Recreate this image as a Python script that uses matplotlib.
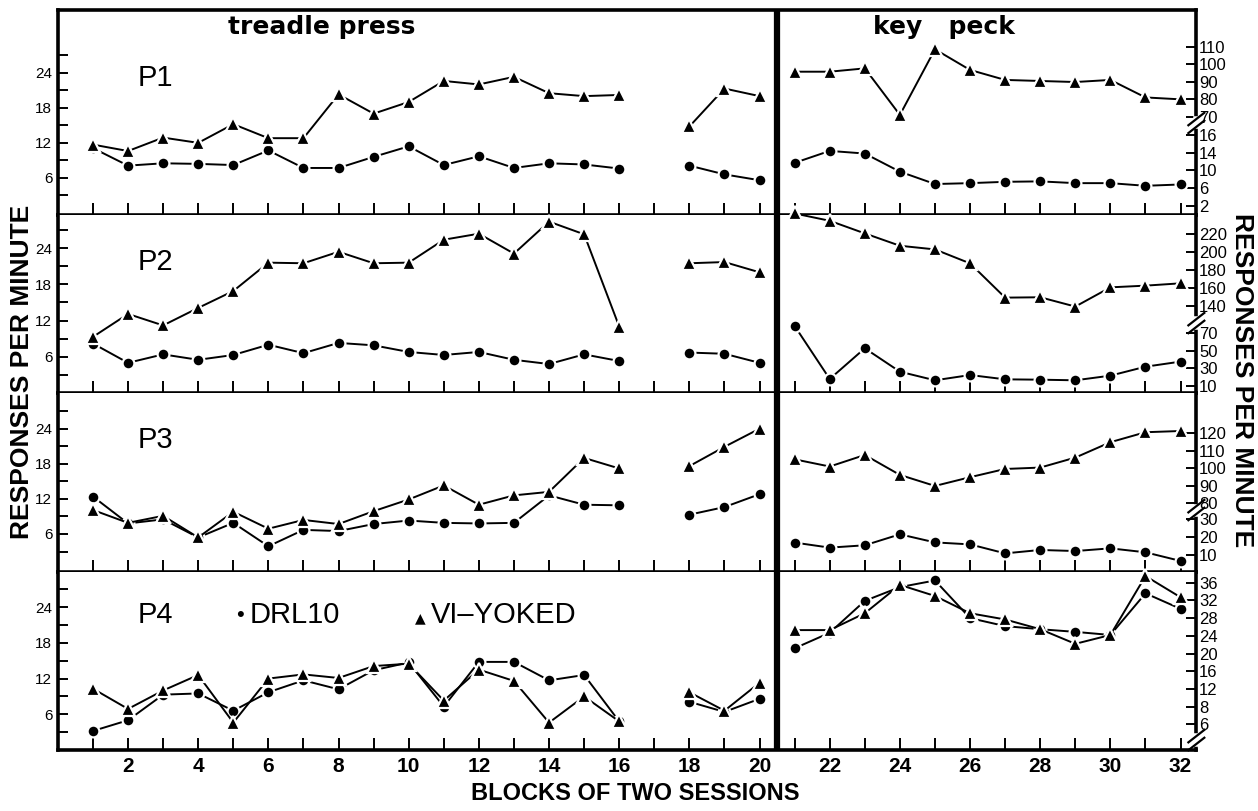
import numpy as np
import matplotlib.pyplot as plt
from matplotlib.ticker import FixedLocator, NullLocator

NA = np.nan

# blocks of two sessions (treadle press 1-20, block 17 missing; key peck 21-32)
treadle_blocks = list(range(1, 21))
key_blocks = list(range(21, 33))

# P1
p1_drl_treadle = [11.1, 8.1, 8.5, 8.4, 8.2, 10.7, 7.7, 7.7, 9.6, 11.4, 8.2, 9.7, 7.7, 8.5, 8.3, 7.6, NA, 8.1, 6.6, 5.6]
p1_vi_treadle = [11.7, 10.6, 12.9, 12.0, 15.2, 12.8, 12.8, 20.3, 17.0, 19.0, 22.6, 22.0, 23.3, 20.5, 20.0, 20.2, NA, 14.8, 21.3, 20.0]
p1_drl_key = [11.7, 14.4, 13.8, 9.7, 6.9, 7.1, 7.4, 7.5, 7.1, 7.1, 6.5, 6.8]
p1_vi_key = [95.7, 95.7, 97.6, 71.0, 108.5, 96.7, 91.0, 90.4, 89.8, 91.0, 81.0, 79.9]

# P2
p2_drl_treadle = [8.2, 5.0, 6.4, 5.5, 6.3, 8.0, 6.6, 8.3, 7.9, 6.8, 6.3, 6.8, 5.5, 4.8, 6.4, 5.3, NA, 6.7, 6.5, 5.0]
p2_vi_treadle = [9.3, 13.1, 11.2, 14.1, 16.9, 21.6, 21.5, 23.4, 21.5, 21.6, 25.4, 26.4, 23.1, 28.4, 26.3, 11.0, NA, 21.5, 21.7, 20.0]
p2_drl_key = [78.4, 18.0, 53.0, 26.3, 16.5, 22.5, 17.6, 17.2, 16.5, 21.8, 32.0, 37.8]
p2_vi_key = [243.0, 234.8, 220.7, 206.9, 202.8, 187.2, 148.9, 149.3, 138.9, 160.4, 162.3, 164.9]

# P3
p3_drl_treadle = [12.4, 7.8, 8.5, 5.4, 7.9, 3.9, 6.7, 6.5, 7.7, 8.3, 7.9, 7.8, 7.9, 12.6, 11.0, 10.9, NA, 9.3, 10.6, 12.8]
p3_vi_treadle = [10.1, 7.9, 9.1, 5.4, 9.8, 6.9, 8.4, 7.7, 9.9, 11.9, 14.3, 11.0, 12.6, 13.2, 19.0, 17.2, NA, 17.6, 20.9, 24.0]
p3_drl_key = [16.9, 14.1, 15.4, 21.5, 17.0, 15.9, 10.9, 12.8, 12.2, 13.7, 11.5, 6.7]
p3_vi_key = [105.1, 101.0, 107.6, 96.2, 89.9, 94.9, 99.6, 100.4, 106.1, 114.9, 120.6, 121.3]

# P4
p4_drl_treadle = [3.2, 5.0, 9.3, 9.5, 6.6, 9.7, 11.7, 10.2, 13.4, 14.7, 7.3, 14.8, 14.8, 11.7, 12.6, 4.8, NA, 8.1, 6.4, 8.6]
p4_vi_treadle = [10.3, 6.9, 10.0, 12.6, 4.6, 12.0, 12.7, 12.1, 14.1, 14.5, 8.3, 13.5, 11.6, 4.6, 9.0, 4.8, NA, 9.7, 6.6, 11.3]
p4_drl_key = [21.2, 24.7, 31.9, 35.0, 36.5, 28.0, 26.2, 25.5, 24.9, 24.2, 33.6, 30.1]
p4_vi_key = [25.3, 25.3, 29.1, 35.5, 33.0, 29.1, 27.7, 25.5, 22.2, 24.2, 37.5, 32.7]

subjects = ['P1', 'P2', 'P3', 'P4']
drl_treadle = [p1_drl_treadle, p2_drl_treadle, p3_drl_treadle, p4_drl_treadle]
vi_treadle = [p1_vi_treadle, p2_vi_treadle, p3_vi_treadle, p4_vi_treadle]
drl_key = [p1_drl_key, p2_drl_key, p3_drl_key, p4_drl_key]
vi_key = [p1_vi_key, p2_vi_key, p3_vi_key, p4_vi_key]

# right axis tick labels as printed
right_tick_vals = [[2, 6, 10, 14, 18, 70, 80, 90, 100, 110],
                   [10, 30, 50, 70, 140, 160, 180, 200, 220],
                   [10, 20, 30, 80, 90, 100, 110, 120],
                   [4, 8, 12, 16, 20, 24, 28, 32, 36]]
right_tick_txt = [['2', '6', '10', '14', '16', '70', '80', '90', '100', '110'],
                  ['10', '30', '50', '70', '140', '160', '180', '200', '220'],
                  ['10', '20', '30', '80', '90', '100', '110', '120'],
                  ['6', '8', '12', '16', '20', '24', '28', '32', '36']]

# layout of the broken right scales: (value, fraction of panel height)
scale_lo = [((2, 0.0454), (14, 0.304)), ((10, 0.0393), (70, 0.335)),
            ((10, 0.095), (30, 0.296)), ((8, 0.243), (36, 0.940))]
scale_hi = [((70, 0.4795), (110, 0.821)), ((140, 0.491), (220, 0.893)),
            ((80, 0.384), (120, 0.775)), None]
scale_brk = [(19, 66), (82, 130), (33, 76), None]
brk_pos = [0.449, 0.393, 0.346, 0.056]
left_lims = [(-0.35, 34.75), (0, 29.5), (-0.5, 30.1), (0, 29.9)]
p_label_y = [0.668, 0.736, 0.737, 0.758]
row_px = [205, 178, 179, 178]

SANS = ['Liberation Sans', 'DejaVu Sans']
plt.rcParams['font.family'] = SANS


def broken_scale(lo, hi, brk):
    (va, fa), (vb, fb) = lo
    s_lo = (fb - fa) / (vb - va)
    if hi is None:
        return None, (va - fa / s_lo, va + (1 - fa) / s_lo)
    (vc, fc), (vd, fd) = hi
    s_hi = (fd - fc) / (vd - vc)
    v_lo, v_hi = brk
    f_lo = fa + (v_lo - va) * s_lo
    f_hi = fc + (v_hi - vc) * s_hi
    vals = [va - (fa + 1) / s_lo, v_lo, v_hi, vc + (2 - fc) / s_hi]
    fracs = [-1.0, f_lo, f_hi, 2.0]

    def fwd(v):
        return np.interp(v, vals, fracs)

    def inv(f):
        return np.interp(f, fracs, vals)
    return (fwd, inv), (float(inv(0.0)), float(inv(1.0)))


def series(ax, x, y, mk, ms):
    ax.plot(x, y, color='black', lw=1.4, marker=mk, ms=ms, mfc='black',
            mec='white', mew=1.6, clip_on=False, zorder=3)


fig = plt.figure(figsize=(12.58, 8.11), dpi=100)
gs = fig.add_gridspec(4, 1, height_ratios=row_px, left=0.046,
                      right=0.951, top=0.9877, bottom=0.0752, hspace=0)

axes = []
for i in range(4):
    ax = fig.add_subplot(gs[i], sharex=axes[0] if axes else None)
    axes.append(ax)
    ax2 = ax.twinx()

    series(ax, treadle_blocks, drl_treadle[i], 'o', 8.5)
    series(ax, treadle_blocks, vi_treadle[i], '^', 9.5)
    series(ax2, key_blocks, drl_key[i], 'o', 8.5)
    series(ax2, key_blocks, vi_key[i], '^', 9.5)

    ax.set_xlim(0, 32.45)
    ax.set_ylim(*left_lims[i])
    ax.axvline(20.5, color='black', lw=4.5, zorder=4)

    funcs, lims = broken_scale(scale_lo[i], scale_hi[i], scale_brk[i])
    if funcs is not None:
        ax2.set_yscale('function', functions=funcs)
    ax2.set_ylim(*lims)
    ax2.yaxis.set_major_locator(FixedLocator(right_tick_vals[i]))
    ax2.yaxis.set_minor_locator(NullLocator())
    ax2.set_yticklabels(right_tick_txt[i], fontsize=12)
    ax2.tick_params(axis='y', direction='in', length=7, width=1.4, pad=2)

    ax.set_yticks([6, 12, 18, 24])
    ax.set_yticks([3, 9, 15, 21, 27], minor=True)
    ax.set_yticklabels(['6', '12', '18', '24'], fontsize=11)
    ax.tick_params(axis='y', which='both', direction='in', length=7, width=1.4, pad=4)

    ax.set_xticks(range(1, 33))
    ax.tick_params(axis='x', direction='in', length=9, width=1.4, labelbottom=(i == 3), pad=5)

    for sp in ['left', 'top', 'bottom']:
        ax.spines[sp].set_linewidth(2.6)
    ax.spines['right'].set_visible(False)
    if i > 0:
        ax.spines['top'].set_visible(False)
    for sp in ['left', 'top', 'bottom']:
        ax2.spines[sp].set_visible(False)
    ax2.spines['right'].set_linewidth(2.6)

    # axis break mark on the right scale
    f = brk_pos[i]
    h = 178.0 / row_px[i]
    ax2.plot([1, 1], [f - 0.02 * h, f + 0.02 * h], transform=ax2.transAxes,
             color='white', lw=4, clip_on=False, zorder=5)
    for d in (-0.022, 0.022):
        ax2.plot([0.993, 1.007], [f + d * h - 0.035 * h, f + d * h + 0.035 * h],
                 transform=ax2.transAxes, color='black', lw=1.6, clip_on=False, zorder=6)

    ax.text(0.07, p_label_y[i], subjects[i], transform=ax.transAxes,
            fontsize=21, va='center', ha='left')

axes[3].set_xticklabels([str(b) if b % 2 == 0 else '' for b in range(1, 33)],
                        fontsize=15, fontweight='bold')

axes[0].text(0.232, 0.915, 'treadle press', transform=axes[0].transAxes, family='DejaVu Sans',
             fontsize=18, fontweight='bold', ha='center', va='center')
axes[0].text(0.778, 0.915, 'key   peck', transform=axes[0].transAxes, family='DejaVu Sans',
             fontsize=18, fontweight='bold', ha='center', va='center')

axes[3].text(0.157, 0.758, '\u2022', transform=axes[3].transAxes, fontsize=16,
             ha='left', va='center')
axes[3].text(0.168, 0.758, 'DRL10', transform=axes[3].transAxes, fontsize=21,
             ha='left', va='center')
axes[3].text(0.314, 0.742, '\u25b2', transform=axes[3].transAxes, fontsize=10,
             family='DejaVu Sans', ha='left', va='center')
axes[3].text(0.328, 0.758, 'VI\u2013YOKED', transform=axes[3].transAxes, fontsize=21,
             ha='left', va='center')

fig.text(0.0175, 0.541, 'RESPONSES PER MINUTE', rotation=90, ha='center', va='center',
         fontsize=19, fontweight='bold')
fig.text(0.987, 0.531, 'RESPONSES PER MINUTE', rotation=-90, ha='center', va='center',
         fontsize=19, fontweight='bold')
fig.text(0.505, 0.021, 'BLOCKS OF TWO SESSIONS', ha='center', va='center',
         fontsize=17, fontweight='bold')

fig.savefig('out.png', dpi=100)
